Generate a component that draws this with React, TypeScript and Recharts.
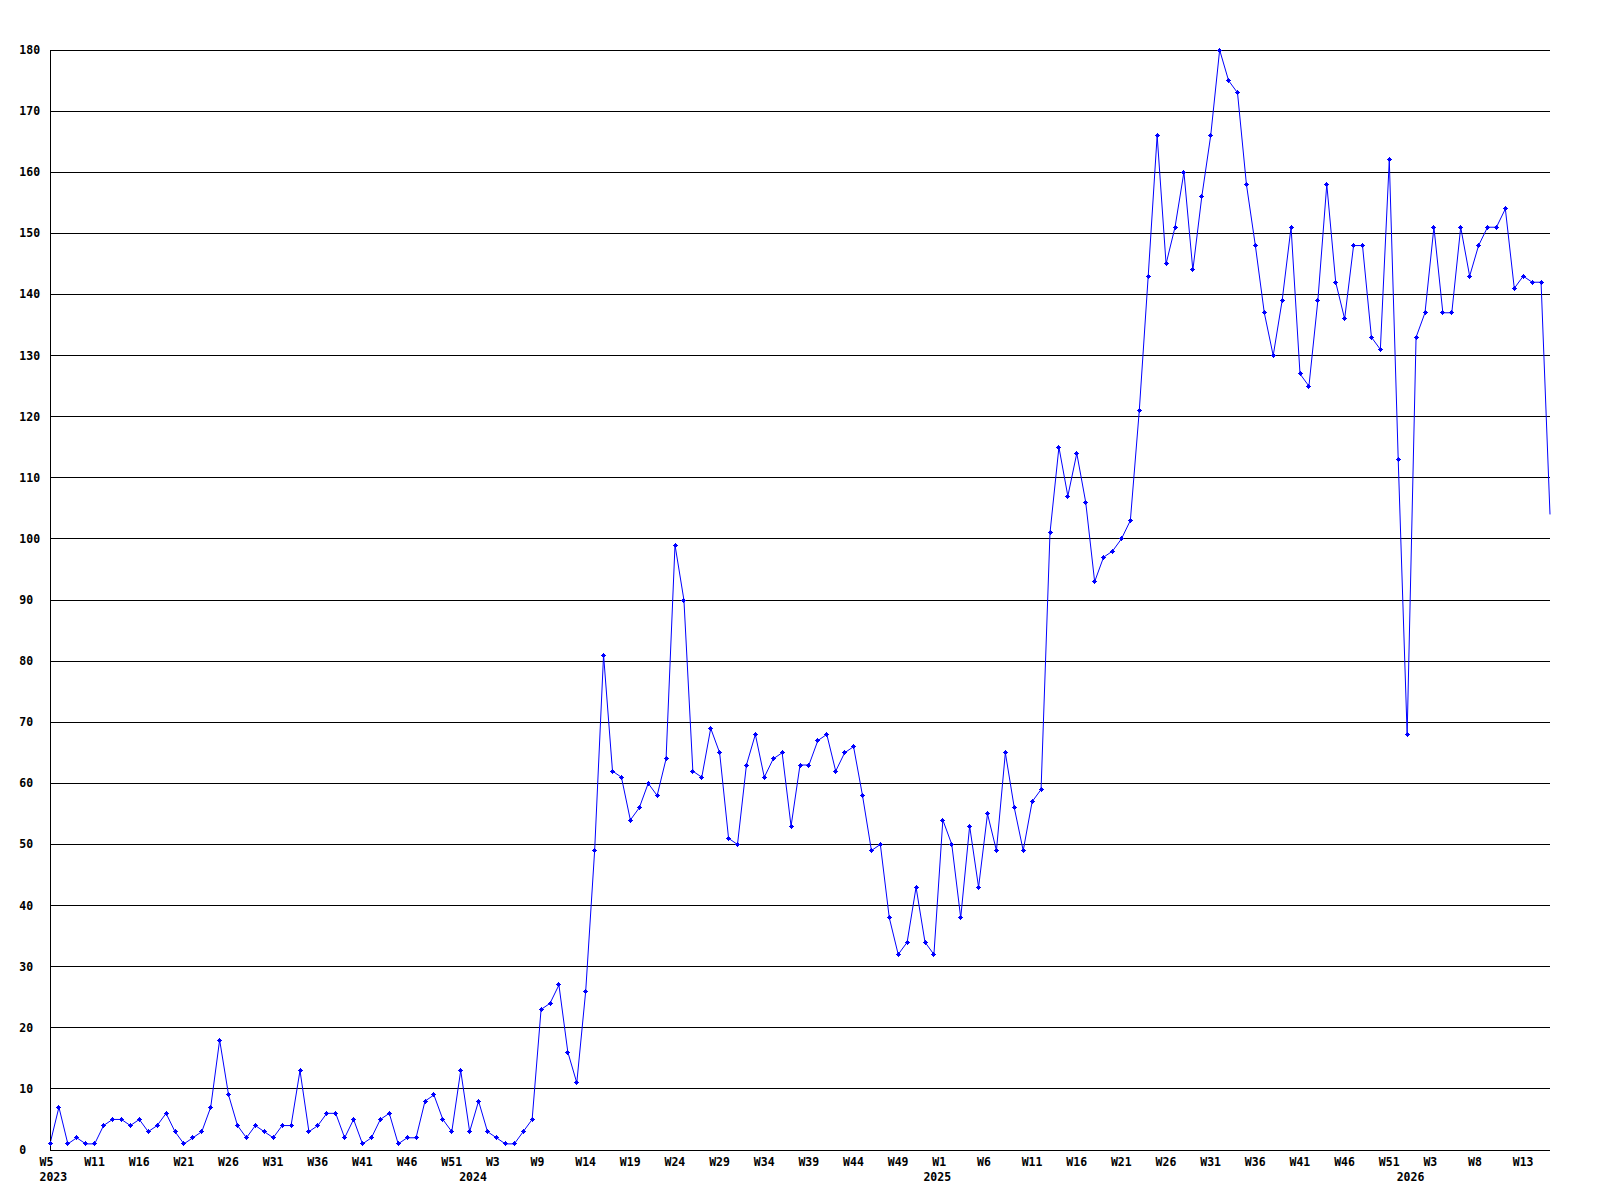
import React from 'react';
import { LineChart, Line, XAxis, YAxis, CartesianGrid } from 'recharts';

// Weekly values, 2023 → 2026 (one per week)
const values2023 = [1, 7, 1, 2, 1, 1, 4, 5, 5, 4, 5, 3, 4, 6, 3, 1, 2, 3, 7, 18, 9, 4, 2, 4, 3, 2, 4, 4, 13, 3, 4, 6, 6, 2, 5, 1, 2, 5, 6, 1, 2, 2, 8, 9, 5, 3, 13];
const values2024 = [3, 8, 3, 2, 1, 1, 3, 5, 23, 24, 27, 16, 11, 26, 49, 81, 62, 61, 54, 56, 60, 58, 64, 99, 90, 62, 61, 69, 65, 51, 50, 63, 68, 61, 64, 65, 53, 63, 63, 67, 68, 62, 65, 66, 58, 49, 50, 38, 32, 34, 43, 34];
const values2025 = [32, 54, 50, 38, 53, 43, 55, 49, 65, 56, 49, 57, 59, 101, 115, 107, 114, 106, 93, 97, 98, 100, 103, 121, 143, 166, 145, 151, 160, 144, 156, 166, 180, 175, 173, 158, 148, 137, 130, 139, 151, 127, 125, 139, 158, 142, 136, 148, 148, 133, 131, 162, 113];
const values2026 = [68, 133, 137, 151, 137, 137, 151, 143, 148, 151, 151, 154, 141, 143, 142, 142, 104];

const values = [...values2023, ...values2024, ...values2025, ...values2026];

// x tick labels, one every 5 points
const weekTickLabels = ['W5', 'W11', 'W16', 'W21', 'W26', 'W31', 'W36', 'W41', 'W46', 'W51', 'W3', 'W9', 'W14', 'W19', 'W24', 'W29', 'W34', 'W39', 'W44', 'W49', 'W1', 'W6', 'W11', 'W16', 'W21', 'W26', 'W31', 'W36', 'W41', 'W46', 'W51', 'W3', 'W8', 'W13'];
const yearLabels = ['2023', '2024', '2025', '2026'];
const yearLabelIndex = [0, 47, 99, 152];
const yTicks = [0, 10, 20, 30, 40, 50, 60, 70, 80, 90, 100, 110, 120, 130, 140, 150, 160, 170, 180];

const data = values.map((v, i) => ({ i, v }));
const allIdx = values.map((_, i) => i);

const FONT = '"DejaVu Sans Mono", "Liberation Mono", monospace';
const textStyle = { fontFamily: FONT, fontSize: 11.5, fontWeight: 700, fill: '#000' };

const XTick = (props: any) => {
  const { x, y, payload } = props;
  const i = payload.value as number;
  const week = i % 5 === 0 ? weekTickLabels[i / 5] : undefined;
  const yi = yearLabelIndex.indexOf(i);
  return (
    <g>
      {week !== undefined && (
        <text x={x - 10.5} y={y + 16} textAnchor="start" style={textStyle}>{week}</text>
      )}
      {yi >= 0 && (
        <text x={x - 10.5} y={y + 31} textAnchor="start" style={textStyle}>{yearLabels[yi]}</text>
      )}
    </g>
  );
};

const YTick = (props: any) => {
  const { x, y, payload } = props;
  return (
    <text x={x - 30.7} y={y + 4} textAnchor="start" style={textStyle}>{payload.value}</text>
  );
};

const Marker = (props: any) => {
  const { cx, cy, index } = props;
  if (cx == null || cy == null || index === values.length - 1) return <g key={`m${index}`} />;
  const x = Math.floor(cx);
  const y = Math.floor(cy);
  return (
    <g key={`m${index}`} fill="#0000ff" shapeRendering="crispEdges">
      <rect x={x - 1} y={y - 1} width={3} height={3} />
      <rect x={x - 2} y={y} width={5} height={1} />
      <rect x={x} y={y - 2} width={1} height={5} />
    </g>
  );
};

export default function App() {
  return (
    <div style={{ width: 1584, height: 1180, background: '#fff' }}>
      <LineChart width={1584} height={1180} data={data} margin={{ top: 42, right: 42, left: 0, bottom: 0 }}>
        <CartesianGrid vertical={false} stroke="#000" strokeWidth={1} shapeRendering="crispEdges" />
        <XAxis
          dataKey="i"
          type="number"
          domain={[0, values.length - 1]}
          ticks={allIdx}
          interval={0}
          height={38}
          tickSize={0}
          tickMargin={0}
          tickLine={false}
          axisLine={{ stroke: '#000', strokeWidth: 1, shapeRendering: 'crispEdges' }}
          tick={<XTick />}
          allowDecimals={false}
        />
        <YAxis
          type="number"
          domain={[0, 180]}
          ticks={yTicks}
          interval={0}
          width={42}
          tickSize={0}
          tickMargin={0}
          tickLine={false}
          axisLine={{ stroke: '#000', strokeWidth: 1, shapeRendering: 'crispEdges' }}
          tick={<YTick />}
        />
        <Line
          type="linear"
          dataKey="v"
          stroke="#0000ff"
          strokeWidth={1}
          dot={<Marker />}
          activeDot={false}
          isAnimationActive={false}
        />
      </LineChart>
    </div>
  );
}
